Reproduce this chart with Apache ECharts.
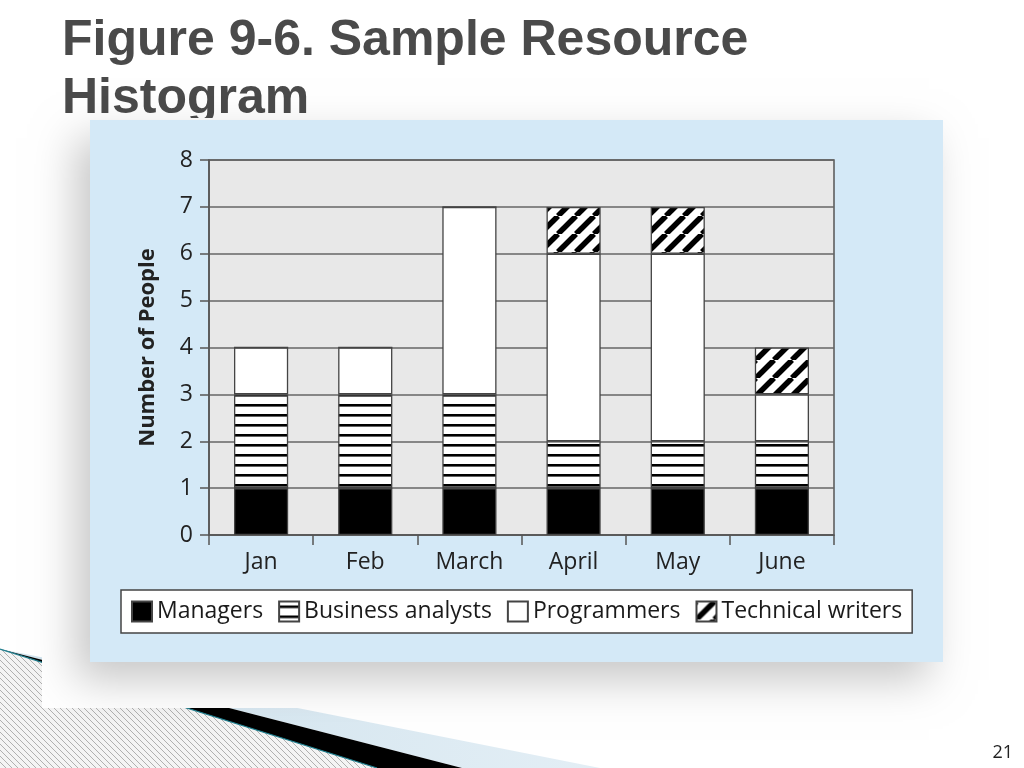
<!DOCTYPE html>
<html>
<head>
<meta charset="utf-8">
<script src="https://cdn.jsdelivr.net/npm/echarts@6/dist/echarts.min.js"></script>
<style>
html,body{margin:0;padding:0;background:#fff;}
#chart{position:absolute;left:0;top:0;width:1024px;height:768px;}
</style>
</head>
<body>
<div id="chart"></div>
<script>
const categories = ['Jan', 'Feb', 'March', 'April', 'May', 'June'];
const managers = [1, 1, 1, 1, 1, 1];
const businessAnalysts = [2, 2, 2, 1, 1, 1];
const programmers = [1, 1, 4, 4, 4, 1];
const technicalWriters = [0, 0, 0, 1, 1, 1];
const yTickLabels = ['0', '1', '2', '3', '4', '5', '6', '7', '8'];
const seriesNames = ['Managers', 'Business analysts', 'Programmers', 'Technical writers'];

function makeCanvas(w, h, draw) {
  const c = document.createElement('canvas');
  c.width = w; c.height = h;
  draw(c.getContext('2d'), w, h);
  return c;
}
const stripePattern = makeCanvas(10, 10, (ctx, w, h) => {
  ctx.fillStyle = '#fff'; ctx.fillRect(0, 0, w, h);
  ctx.fillStyle = '#000'; ctx.fillRect(0, 4, w, 2.6);
});
const hatchPattern = makeCanvas(18, 18, (ctx, w, h) => {
  ctx.fillStyle = '#fff'; ctx.fillRect(0, 0, w, h);
  ctx.strokeStyle = '#000'; ctx.lineWidth = 5.5;
  [-w, 0, w].forEach(x0 => { ctx.beginPath(); ctx.moveTo(x0, h); ctx.lineTo(x0 + w, 0); ctx.stroke(); });
});
const decoPattern = makeCanvas(6, 6, (ctx, w, h) => {
  ctx.fillStyle = '#f4f4f4'; ctx.fillRect(0, 0, w, h);
  ctx.strokeStyle = '#b0b0b0'; ctx.lineWidth = 1;
  [-w, 0, w].forEach(x0 => { ctx.beginPath(); ctx.moveTo(x0, 0); ctx.lineTo(x0 + w, h); ctx.stroke(); });
});

const chart = echarts.init(document.getElementById('chart'));
const font = 'Open Sans';
const border = { borderColor: '#444', borderWidth: 1.3 };

function barSeries(name, data, color) {
  return {
    name: name, type: 'bar', stack: 'people', data: data, barWidth: '52%',
    itemStyle: Object.assign({ color: color }, border),
    emphasis: { disabled: true }
  };
}

chart.setOption({
  animation: false,
  textStyle: { fontFamily: font },
  graphic: {
    elements: [
      { type: 'polygon', z: -20, shape: { points: [[0, 649], [377, 768], [0, 768]] },
        style: { fill: { image: decoPattern, repeat: 'repeat' } } },
      { type: 'polygon', z: -20, shape: { points: [[0, 649], [600, 768], [462, 768]] },
        style: { fill: new echarts.graphic.LinearGradient(0, 0, 1, 0, [
          { offset: 0, color: '#cfe3ee' }, { offset: 1, color: '#e3eef5' }]) } },
      { type: 'polygon', z: -19, shape: { points: [[0, 649], [462, 768], [377, 768]] },
        style: { fill: '#000' } },
      { type: 'line', z: -18, shape: { x1: 0, y1: 649, x2: 377, y2: 768 },
        style: { stroke: '#1f7f8f', lineWidth: 1.2 } },
      { type: 'text', z: -17, style: { text: 'Figure 9-6. Sample Resource', x: 62, y: 41,
          font: 'bold 50px "Liberation Sans", Arial, sans-serif', fill: '#4a4a4a', verticalAlign: 'middle' } },
      { type: 'text', z: -17, style: { text: 'Histogram', x: 62, y: 99,
          font: 'bold 50px "Liberation Sans", Arial, sans-serif', fill: '#4a4a4a', verticalAlign: 'middle' } },
      { type: 'rect', z: -16, shape: { x: 42, y: 118, width: 903, height: 590 },
        style: { fill: '#fff' } },
      { type: 'rect', z: -15, shape: { x: 90, y: 120, width: 853, height: 542 },
        style: { fill: '#d4e9f7', shadowBlur: 40, shadowOffsetX: -14, shadowOffsetY: 18, shadowColor: 'rgba(0,0,0,0.22)' } },
      { type: 'text', z: -14, style: { text: '21', x: 1013, y: 753, align: 'right', verticalAlign: 'middle',
          font: '18px "Open Sans", sans-serif', fill: '#222' } }
    ]
  },
  grid: {
    left: 209, top: 160, width: 625, height: 375,
    show: true, backgroundColor: '#e8e8e8', borderColor: '#555', borderWidth: 1.5
  },
  legend: {
    data: seriesNames,
    left: 121, top: 590,
    icon: 'rect', itemWidth: 20, itemHeight: 20, itemGap: 15,
    backgroundColor: '#fff', borderColor: '#444', borderWidth: 1.5, padding: [10, 10],
    textStyle: { fontSize: 23, color: '#1a1a1a', fontFamily: font },
    selectedMode: false
  },
  xAxis: {
    type: 'category', data: categories,
    axisLine: { lineStyle: { color: '#555', width: 1.5 } },
    axisTick: { show: true, length: 10, lineStyle: { color: '#555', width: 1.5 } },
    axisLabel: { fontSize: 23, color: '#222', margin: 16, fontFamily: font },
    splitLine: { show: false }
  },
  yAxis: {
    type: 'value', min: 0, max: 8, interval: 1,
    name: 'Number of People', nameLocation: 'middle', nameGap: 50,
    nameTextStyle: { fontSize: 22, fontWeight: 'bold', color: '#222', fontFamily: font },
    axisLine: { show: true, lineStyle: { color: '#555', width: 1.5 } },
    axisTick: { show: true, length: 9, lineStyle: { color: '#555', width: 1.5 } },
    axisLabel: { fontSize: 23, color: '#222', margin: 16, fontFamily: font,
      formatter: (v) => yTickLabels[v] },
    splitLine: { show: true, lineStyle: { color: '#666', width: 1.5 } }
  },
  series: [
    barSeries(seriesNames[0], managers, '#000'),
    barSeries(seriesNames[1], businessAnalysts, { image: stripePattern, repeat: 'repeat' }),
    barSeries(seriesNames[2], programmers, '#fff'),
    barSeries(seriesNames[3], technicalWriters, { image: hatchPattern, repeat: 'repeat' })
  ]
});
</script>
</body>
</html>
